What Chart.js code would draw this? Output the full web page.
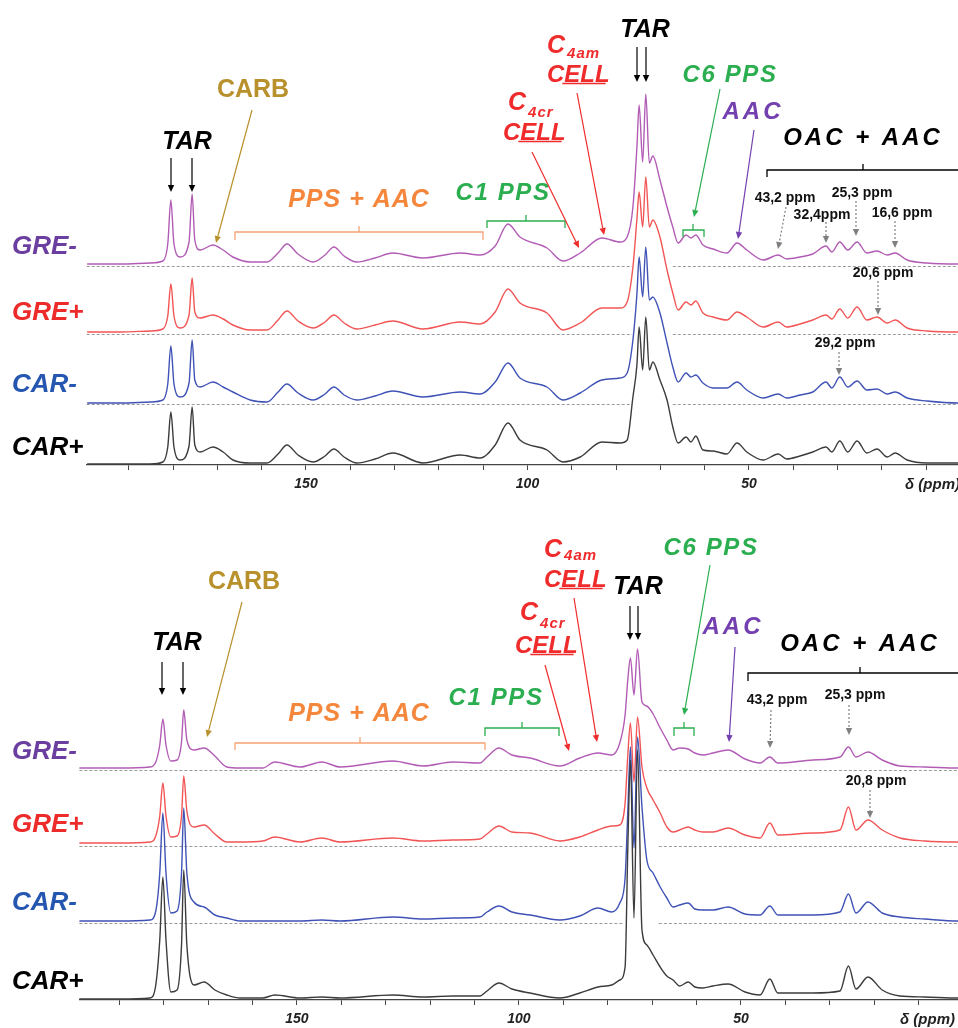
<!DOCTYPE html>
<html>
<head>
<meta charset="utf-8">
<script src="https://cdn.jsdelivr.net/npm/chart.js@4.4.1/dist/chart.umd.min.js"></script>
<style>
html, body { margin: 0; padding: 0; background: #fff; width: 958px; height: 1028px; overflow: hidden; }
canvas { position: absolute; left: 0; }
#top { top: 0; }
#bottom { top: 500px; }
</style>
</head>
<body>
<canvas id="top" width="980" height="500"></canvas>
<canvas id="bottom" width="980" height="528"></canvas>
<script>
// chemical shift grid (ppm) and intensities, upper panel
var ppmTop = [199.4,192.0,185.2,182.3,181.2,180.5,179.8,178.4,176.4,175.7,
  175.1,173.9,171.0,168.7,166.5,162.6,158.8,156.3,154.3,151.8,
  148.4,145.7,143.7,141.4,138.5,134.4,130.4,123.6,115.2,110.7,
  107.3,104.4,101.7,95.6,92.0,88.1,83.2,79.1,77.5,76.2,
  75.3,74.8,74.0,73.3,72.5,71.7,70.1,68.5,67.2,66.0,
  64.2,63.1,62.0,60.4,58.1,55.0,52.7,50.5,46.8,43.4,
  41.5,38.5,35.6,32.6,31.3,29.5,27.7,25.6,23.4,21.1,
  18.8,17.0,14.3,9.8,2.8,0.5];
var greMinusTop = [2,2,3,5,22,66,22,9,24,72, 26,16,21,16,9,4,4,13,22,12, 4,11,19,10,4,8,13,8,13,11,
  20,42,29,18,5,13,28,24,29,59, 119,161,104,172,103,110,86,59,39,23, 31,28,31,21,17,13,23,16,6,11,
  7,9,12,20,14,24,16,24,13,15, 11,13,6,3,2,2];
var grePlusTop = [2,2,3,5,18,50,18,6,19,56, 22,16,19,15,9,4,4,14,23,13, 6,12,19,11,5,9,13,5,12,10,
  22,45,31,21,4,11,26,26,32,67, 115,142,107,157,107,114,97,64,41,24, 32,29,33,21,17,14,22,17,7,12,
  7,10,14,19,15,25,16,27,14,17, 11,14,6,3,2,2];
var carMinusTop = [1,1,2,4,20,58,20,7,21,64, 24,17,22,17,12,4,2,12,20,11, 4,10,17,9,4,8,13,7,12,10,
  22,41,26,17,4,11,24,26,31,64, 110,147,107,157,104,107,91,61,37,22, 31,27,29,21,16,16,22,14,6,10,
  6,9,12,22,16,27,17,23,14,15, 10,12,6,3,1,1];
var carPlusTop = [1,1,1,3,18,53,18,5,19,58, 20,13,18,13,5,2,2,11,20,10, 3,9,16,8,2,6,12,2,10,7,
  20,42,25,15,3,8,23,22,25,68, 100,138,95,148,95,103,85,65,38,22, 28,23,29,15,14,11,22,13,5,11,
  6,9,13,18,13,24,13,24,12,16, 8,12,5,2,2,2];

// lower panel
var ppmBot = [199.1,189.9,183.1,181.8,180.9,180.2,179.5,178.4,177.0,176.0,
  175.5,174.8,173.2,170.9,168.5,165.8,162.8,157.7,155.0,149.3,
  144.4,140.3,128.4,121.6,114.9,108.8,107.2,104.5,101.6,97.5,
  90.8,86.3,82.2,79.1,77.3,76.1,75.5,74.9,74.1,73.3,
  72.3,71.2,69.8,68.2,66.7,65.3,63.8,61.9,60.4,58.6,
  56.3,52.9,49.1,45.7,43.5,41.7,33.8,27.7,25.8,24.1,
  21.4,18.2,14.2,8.6,1.1,0.5];
var greMinusBot = [2,2,3,8,25,51,25,9,10,28, 60,30,20,22,14,3,2,2,8,3, 8,3,9,4,8,7,13,22,15,12,
  4,12,17,15,27,55,90,112,75,121, 68,64,56,42,30,20,22,21,17,15, 17,20,11,7,13,7,10,13,23,13,
  18,10,4,3,2,2];
var grePlusBot = [3,3,4,10,30,63,30,9,10,30, 70,35,19,21,12,4,4,5,9,4, 8,4,8,5,6,7,12,20,14,13,
  5,9,16,20,21,43,90,123,64,129, 79,58,46,33,19,14,16,19,16,14, 14,18,11,8,23,11,13,16,39,16,
  26,16,8,5,4,4];
var carMinusBot = [2,2,3,12,50,110,50,10,12,50, 115,50,21,16,8,5,2,2,2,2, 3,2,6,4,5,6,11,17,11,8,
  3,7,15,11,20,45,110,176,75,186, 116,63,50,36,25,16,18,20,14,13, 13,16,9,8,17,8,8,11,29,10,
  21,10,6,4,2,2];
var carPlusBot = [1,1,2,15,60,123,60,8,10,55, 130,55,15,18,10,5,2,2,5,2, 3,2,5,3,4,4,9,17,11,7,
  2,7,13,15,20,33,150,240,82,250, 70,55,45,33,24,20,14,18,13,12, 14,16,8,5,21,7,7,9,34,11,
  23,10,4,3,2,2];

// stacking offsets of each trace (same units as intensity)
var offsetsTop = [0, 61, 131, 199];   // CAR+, CAR-, GRE+, GRE-
var offsetsBot = [0, 77, 154, 230];
var tickLabels = [150, 100, 50];

var FONT = '"Liberation Sans", Arial, sans-serif';
var GOLD = '#b8912c', ORANGE = '#f5873c', ORANGE_L = '#f7a274', GREEN = '#2aae4f',
    RED = '#ef2b2b', PURPLE = '#7440b0';

function txt(ctx, s, x, y, size, color, o) {
  o = o || {};
  ctx.save();
  ctx.font = (o.italic === false ? '' : 'italic ') + 'bold ' + size + 'px ' + FONT;
  ctx.fillStyle = color;
  ctx.textAlign = o.align || 'center';
  ctx.textBaseline = o.base || 'middle';
  ctx.letterSpacing = (o.ls || 0) + 'px';
  ctx.fillText(s, x, y);
  ctx.restore();
}

function arrow(ctx, x1, y1, x2, y2, color, dashed) {
  var a = Math.atan2(y2 - y1, x2 - x1), h = 7, w = 3.2;
  var bx = x2 - h * Math.cos(a), by = y2 - h * Math.sin(a);
  ctx.save();
  ctx.strokeStyle = color; ctx.fillStyle = color; ctx.lineWidth = 1.2;
  if (dashed) ctx.setLineDash([2, 2]);
  ctx.beginPath(); ctx.moveTo(x1, y1); ctx.lineTo(bx, by); ctx.stroke();
  ctx.setLineDash([]);
  ctx.beginPath();
  ctx.moveTo(x2, y2);
  ctx.lineTo(bx + w * Math.sin(a), by - w * Math.cos(a));
  ctx.lineTo(bx - w * Math.sin(a), by + w * Math.cos(a));
  ctx.closePath(); ctx.fill();
  ctx.restore();
}

function brace(ctx, x1, x2, xm, y, drop, color) {
  ctx.save();
  ctx.strokeStyle = color; ctx.lineWidth = 1.3;
  ctx.beginPath();
  ctx.moveTo(x1, y + drop); ctx.lineTo(x1, y); ctx.lineTo(x2, y); ctx.lineTo(x2, y + drop);
  ctx.moveTo(xm, y); ctx.lineTo(xm, y - 6);
  ctx.stroke();
  ctx.restore();
}

// "C" with subscript, then "CELL" underlined under "ELL"
function cellLabel(ctx, xc, yc, ysub, xcell, ycell, sub) {
  ctx.save();
  ctx.fillStyle = RED; ctx.textAlign = 'left'; ctx.textBaseline = 'alphabetic';
  ctx.font = 'italic bold 25px ' + FONT;
  ctx.fillText('C', xc, yc);
  var wc = ctx.measureText('C').width;
  ctx.font = 'italic bold 15px ' + FONT;
  ctx.letterSpacing = '1px';
  ctx.fillText(sub, xc + wc + 2, ysub);
  ctx.letterSpacing = '0px';
  ctx.font = 'italic bold 24px ' + FONT;
  ctx.fillText('CELL', xcell, ycell);
  var w1 = ctx.measureText('C').width, w2 = ctx.measureText('CELL').width;
  ctx.strokeStyle = RED; ctx.lineWidth = 1.6;
  ctx.beginPath(); ctx.moveTo(xcell + w1 - 2, ycell + 1.5); ctx.lineTo(xcell + w2 - 4, ycell + 1.5); ctx.stroke();
  ctx.restore();
}

function sideLabels(ctx, ys) {
  txt(ctx, 'GRE-', 12, ys[0], 26, '#6b3fa0', {align: 'left'});
  txt(ctx, 'GRE+', 12, ys[1], 26, '#ee2b2b', {align: 'left'});
  txt(ctx, 'CAR-', 12, ys[2], 26, '#2556b0', {align: 'left'});
  txt(ctx, 'CAR+', 12, ys[3], 26, '#000', {align: 'left'});
}

function drawTop(ctx) {
  sideLabels(ctx, [247, 313, 385, 448]);
  txt(ctx, 'TAR', 187, 142, 25, '#000');
  arrow(ctx, 171, 158, 171, 192, '#000');
  arrow(ctx, 192, 158, 192, 192, '#000');
  txt(ctx, 'CARB', 253, 90, 25, GOLD, {italic: false});
  arrow(ctx, 252, 110, 216, 243, GOLD);
  txt(ctx, 'PPS + AAC', 359, 200, 25, ORANGE, {ls: 1});
  brace(ctx, 235, 483, 359, 232, 8, ORANGE_L);
  txt(ctx, 'C1 PPS', 503, 193, 24, GREEN, {ls: 1.6});
  brace(ctx, 487, 565, 526, 221, 7, GREEN);
  cellLabel(ctx, 508, 110, 117, 503, 140, '4cr');
  arrow(ctx, 532, 152, 579, 248, RED);
  cellLabel(ctx, 547, 53, 58, 547, 82, '4am');
  arrow(ctx, 577, 93, 604, 235, RED);
  txt(ctx, 'TAR', 645, 30, 25, '#000');
  arrow(ctx, 637, 47, 637, 82, '#000');
  arrow(ctx, 646, 47, 646, 82, '#000');
  txt(ctx, 'C6 PPS', 730, 75, 24, GREEN, {ls: 1.6});
  arrow(ctx, 720, 89, 694, 217, GREEN);
  brace(ctx, 683, 704, 693, 230, 7, GREEN);
  txt(ctx, 'AAC', 753, 112, 24, PURPLE, {ls: 3});
  arrow(ctx, 754, 130, 738, 239, PURPLE);
  txt(ctx, 'OAC + AAC', 863, 138, 24, '#000', {ls: 3});
  brace(ctx, 767, 990, 863, 170, 7, '#000');
  var g = '#808080';
  txt(ctx, '43,2 ppm', 785, 198, 14, '#111', {italic: false});
  arrow(ctx, 786, 207, 778, 249, g, true);
  txt(ctx, '32,4ppm', 822, 215, 14, '#111', {italic: false});
  arrow(ctx, 826, 222, 826, 243, g, true);
  txt(ctx, '25,3 ppm', 862, 193, 14, '#111', {italic: false});
  arrow(ctx, 856, 201, 856, 236, g, true);
  txt(ctx, '16,6 ppm', 902, 213, 14, '#111', {italic: false});
  arrow(ctx, 895, 221, 895, 248, g, true);
  txt(ctx, '20,6 ppm', 883, 273, 14, '#111', {italic: false});
  arrow(ctx, 878, 281, 878, 315, g, true);
  txt(ctx, '29,2 ppm', 845, 343, 14, '#111', {italic: false});
  arrow(ctx, 839, 352, 839, 375, g, true);
  txt(ctx, '\u03b4 (ppm)', 960, 485, 15, '#222', {align: 'right'});
}

function drawBottom(ctx) {
  ctx.save();
  ctx.translate(0, -500);
  sideLabels(ctx, [752, 825, 903, 982]);
  txt(ctx, 'TAR', 177, 643, 25, '#000');
  arrow(ctx, 162, 662, 162, 695, '#000');
  arrow(ctx, 183, 662, 183, 695, '#000');
  txt(ctx, 'CARB', 244, 582, 25, GOLD, {italic: false});
  arrow(ctx, 242, 602, 207, 737, GOLD);
  txt(ctx, 'PPS + AAC', 359, 714, 25, ORANGE, {ls: 1});
  brace(ctx, 235, 485, 360, 743, 7, ORANGE_L);
  txt(ctx, 'C1 PPS', 496, 698, 24, GREEN, {ls: 1.6});
  brace(ctx, 485, 559, 522, 728, 8, GREEN);
  cellLabel(ctx, 520, 620, 628, 515, 653, '4cr');
  arrow(ctx, 545, 665, 569, 751, RED);
  cellLabel(ctx, 544, 557, 560, 544, 587, '4am');
  arrow(ctx, 574, 598, 597, 742, RED);
  txt(ctx, 'TAR', 638, 587, 25, '#000');
  arrow(ctx, 630, 606, 630, 640, '#000');
  arrow(ctx, 638, 606, 638, 640, '#000');
  txt(ctx, 'C6 PPS', 711, 548, 24, GREEN, {ls: 1.6});
  arrow(ctx, 710, 565, 684, 715, GREEN);
  brace(ctx, 674, 694, 684, 728, 8, GREEN);
  txt(ctx, 'AAC', 733, 627, 24, PURPLE, {ls: 3});
  arrow(ctx, 735, 647, 729, 742, PURPLE);
  txt(ctx, 'OAC + AAC', 860, 644, 24, '#000', {ls: 3});
  brace(ctx, 748, 990, 860, 673, 8, '#000');
  var g = '#808080';
  txt(ctx, '43,2 ppm', 777, 700, 14, '#111', {italic: false});
  arrow(ctx, 771, 710, 770, 748, g, true);
  txt(ctx, '25,3 ppm', 855, 695, 14, '#111', {italic: false});
  arrow(ctx, 849, 705, 849, 735, g, true);
  txt(ctx, '20,8 ppm', 876, 781, 14, '#111', {italic: false});
  arrow(ctx, 870, 790, 870, 818, g, true);
  txt(ctx, '\u03b4 (ppm)', 955, 1020, 15, '#222', {align: 'right'});
  ctx.restore();
}

function makeDeco(offsets, gap, drawFn) {
  return {
    id: 'deco',
    beforeDatasetsDraw: function (chart) {
      var ctx = chart.ctx, a = chart.chartArea, x = chart.scales.x, y = chart.scales.y;
      ctx.save();
      ctx.strokeStyle = '#9a9a9a'; ctx.lineWidth = 1; ctx.setLineDash([3, 2]);
      offsets.slice(1).forEach(function (b) {
        var py = Math.round(y.getPixelForValue(b)) + 0.5;
        ctx.beginPath();
        ctx.moveTo(a.left, py); ctx.lineTo(x.getPixelForValue(gap[0]), py);
        ctx.moveTo(x.getPixelForValue(gap[1]), py); ctx.lineTo(a.right, py);
        ctx.stroke();
      });
      ctx.restore();
    },
    afterDraw: function (chart) { drawFn(chart.ctx); }
  };
}

function trace(ppm, vals, off, color) {
  return {
    data: ppm.map(function (p, i) { return {x: p, y: vals[i] + off}; }),
    borderColor: color,
    borderWidth: 1.4,
    pointRadius: 0,
    fill: false,
    cubicInterpolationMode: 'monotone'
  };
}

function makeChart(id, ppm, series, offsets, xMax, pad, yMax, axisH, gap, drawFn) {
  var colors = ['#3c3c3c', '#3f52b5', '#f25555', '#b25cb5'];
  return new Chart(document.getElementById(id), {
    type: 'line',
    data: {
      // first dataset is drawn on top
      datasets: series.map(function (s, i) { return trace(ppm, s, offsets[i], colors[i]); })
    },
    options: {
      responsive: false,
      animation: false,
      layout: {padding: pad},
      plugins: {legend: {display: false}, tooltip: {enabled: false}},
      scales: {
        x: {
          type: 'linear', reverse: true, min: 0, max: xMax,
          afterFit: function (s) { s.height = axisH; },
          border: {display: true, color: '#444', width: 1.3},
          grid: {drawOnChartArea: false, drawTicks: true, tickLength: 5, color: '#444'},
          ticks: {
            stepSize: 10, autoSkip: false, includeBounds: false, maxRotation: 0, padding: 6,
            color: '#222',
            font: {family: FONT, size: 14, weight: 'bold', style: 'italic'},
            callback: function (v) { return tickLabels.indexOf(v) >= 0 ? String(v) : ''; }
          }
        },
        y: {display: false, min: 0, max: yMax}
      }
    },
    plugins: [makeDeco(offsets, gap, drawFn)]
  });
}

makeChart('top', ppmTop, [carPlusTop, carMinusTop, grePlusTop, greMinusTop], offsetsTop,
  199.5, {left: 86.7, right: 9.5, top: 80, bottom: 0}, 385, 35, [76.4, 67.2], drawTop);
makeChart('bottom', ppmBot, [carPlusBot, carMinusBot, grePlusBot, greMinusBot], offsetsBot,
  199, {left: 79.4, right: 17, top: 100, bottom: 0}, 400, 28, [76.6, 68.5], drawBottom);
</script>
</body>
</html>
